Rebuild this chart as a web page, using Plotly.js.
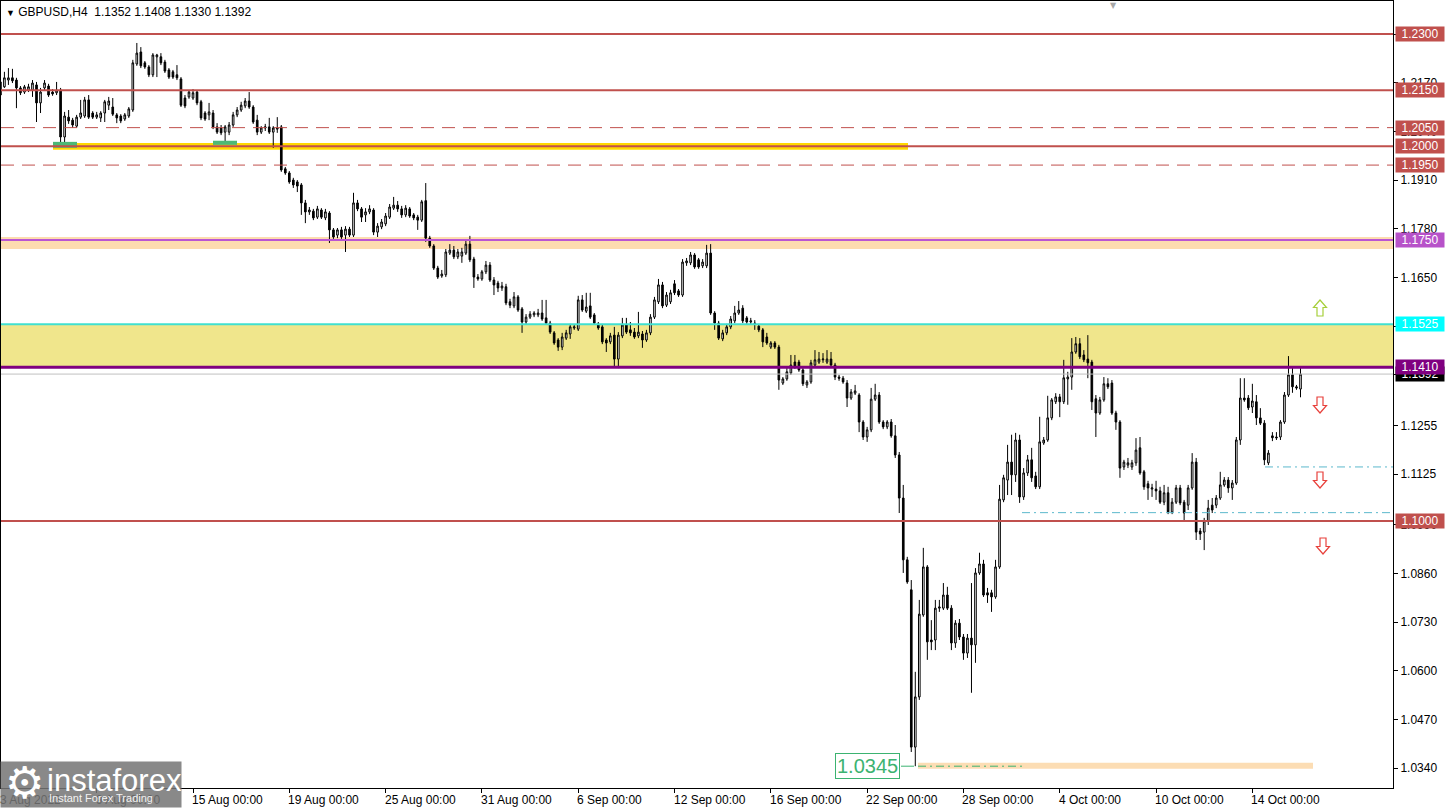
<!DOCTYPE html>
<html><head><meta charset="utf-8">
<script src="https://cdn.plot.ly/plotly-3.0.1.min.js"></script>
<style>html,body{margin:0;padding:0;background:#fff;overflow:hidden}#chart{width:1447px;height:808px}</style>
</head><body><div id="chart"></div>
<script>
// ---------- DATA (GBPUSD, H4) ----------
const open=[
1.2172,1.2159,1.2177,1.2183,1.2177,1.2156,1.2145,1.2150,1.2150,1.2164,
1.2116,1.2156,1.2161,1.2145,1.2143,1.2150,1.2025,1.2078,1.2070,1.2054,
1.2078,1.2081,1.2124,1.2089,1.2078,1.2076,1.2089,1.2110,1.2105,1.2084,
1.2081,1.2073,1.2081,1.2097,1.2220,1.2252,1.2223,1.2212,1.2191,1.2239,
1.2239,1.2225,1.2204,1.2199,1.2191,1.2180,1.2129,1.2132,1.2129,1.2145,
1.2119,1.2089,1.2084,1.2089,1.2052,1.2049,1.2038,1.2038,1.2057,1.2084,
1.2097,1.2108,1.2121,1.2105,1.2070,1.2038,1.2049,1.2052,1.2038,1.2046,
1.2052,1.1940,1.1929,1.1910,1.1905,1.1897,1.1849,1.1825,1.1827,1.1811,
1.1830,1.1809,1.1822,1.1777,1.1763,1.1777,1.1763,1.1779,1.1763,1.1849,
1.1833,1.1817,1.1825,1.1830,1.1771,1.1785,1.1793,1.1811,1.1835,1.1843,
1.1833,1.1817,1.1833,1.1817,1.1811,1.1803,1.1855,1.1755,1.1734,1.1675,
1.1654,1.1657,1.1715,1.1723,1.1705,1.1707,1.1715,1.1739,1.1699,1.1651,
1.1646,1.1665,1.1683,1.1643,1.1635,1.1622,1.1625,1.1585,1.1574,1.1598,
1.1566,1.1531,1.1544,1.1550,1.1550,1.1555,1.1542,1.1528,1.1502,1.1483,
1.1464,1.1488,1.1499,1.1515,1.1512,1.1590,1.1560,1.1574,1.1550,1.1526,
1.1518,1.1483,1.1478,1.1496,1.1432,1.1494,1.1523,1.1510,1.1504,1.1494,
1.1499,1.1483,1.1502,1.1544,1.1585,1.1630,1.1576,1.1585,1.1633,1.1614,
1.1603,1.1689,1.1689,1.1710,1.1697,1.1681,1.1681,1.1715,1.1555,1.1528,
1.1486,1.1502,1.1518,1.1534,1.1555,1.1568,1.1542,1.1531,1.1528,1.1520,
1.1510,1.1491,1.1464,1.1475,1.1464,1.1368,1.1379,1.1395,1.1424,1.1424,
1.1403,1.1363,1.1371,1.1416,1.1424,1.1430,1.1424,1.1432,1.1416,1.1384,
1.1381,1.1368,1.1328,1.1341,1.1336,1.1264,1.1224,1.1243,1.1325,1.1336,
1.1264,1.1251,1.1264,1.1227,1.1176,1.1061,1.0896,1.0816,1.0396,1.0530,
1.0749,1.0877,1.0682,1.0682,1.0767,1.0767,1.0802,1.0767,1.0674,1.0727,
1.0690,1.0647,1.0687,1.0669,1.0861,1.0885,1.0808,1.0808,1.0797,1.0877,
1.1056,1.1109,1.1157,1.1123,1.1216,1.1064,1.1128,1.1163,1.1120,1.1091,
1.1208,1.1216,1.1275,1.1318,1.1331,1.1318,1.1379,1.1384,1.1451,1.1473,
1.1443,1.1432,1.1424,1.1326,1.1288,1.1323,1.1366,1.1368,1.1288,1.1264,
1.1144,1.1149,1.1144,1.1155,1.1195,1.1131,1.1099,1.1085,1.1085,1.1080,
1.1050,1.1075,1.1024,1.1050,1.1088,1.1050,1.1042,1.1088,1.1157,1.0973,
1.0970,1.1000,1.1042,1.1042,1.1061,1.1096,1.1109,1.1088,1.1101,1.1216,
1.1328,1.1328,1.1304,1.1318,1.1275,1.1261,1.1155,1.1227,1.1224,1.1224,
1.1264,1.1336,1.1390,1.1358,1.1352];
const high=[
1.2177,1.2199,1.2209,1.2207,1.2183,1.2161,1.2164,1.2167,1.2177,1.2172,
1.2156,1.2177,1.2167,1.2153,1.2172,1.2156,1.2092,1.2097,1.2076,1.2084,
1.2124,1.2132,1.2137,1.2094,1.2092,1.2094,1.2124,1.2132,1.2129,1.2089,
1.2086,1.2089,1.2105,1.2231,1.2276,1.2265,1.2228,1.2217,1.2249,1.2247,
1.2249,1.2231,1.2209,1.2204,1.2217,1.2185,1.2137,1.2150,1.2153,1.2150,
1.2124,1.2094,1.2116,1.2097,1.2062,1.2057,1.2057,1.2065,1.2092,1.2105,
1.2119,1.2129,1.2145,1.2110,1.2084,1.2054,1.2060,1.2076,1.2054,1.2078,
1.2057,1.1945,1.1934,1.1916,1.1910,1.1902,1.1857,1.1838,1.1833,1.1841,
1.1835,1.1833,1.1827,1.1782,1.1782,1.1785,1.1787,1.1785,1.1876,1.1857,
1.1838,1.1835,1.1843,1.1835,1.1795,1.1806,1.1822,1.1846,1.1865,1.1854,
1.1841,1.1843,1.1838,1.1822,1.1817,1.1857,1.1902,1.1761,1.1739,1.1681,
1.1670,1.1726,1.1739,1.1734,1.1726,1.1729,1.1750,1.1761,1.1705,1.1659,
1.1670,1.1694,1.1691,1.1651,1.1641,1.1638,1.1633,1.1593,1.1611,1.1603,
1.1571,1.1552,1.1560,1.1560,1.1566,1.1590,1.1590,1.1534,1.1507,1.1488,
1.1502,1.1510,1.1526,1.1523,1.1601,1.1603,1.1609,1.1609,1.1555,1.1531,
1.1523,1.1488,1.1502,1.1518,1.1504,1.1542,1.1542,1.1531,1.1515,1.1558,
1.1507,1.1510,1.1552,1.1598,1.1646,1.1638,1.1611,1.1617,1.1643,1.1619,
1.1699,1.1702,1.1718,1.1715,1.1702,1.1699,1.1737,1.1739,1.1560,1.1534,
1.1510,1.1526,1.1547,1.1574,1.1587,1.1576,1.1547,1.1542,1.1536,1.1526,
1.1515,1.1502,1.1480,1.1480,1.1470,1.1384,1.1408,1.1443,1.1443,1.1430,
1.1408,1.1376,1.1430,1.1456,1.1451,1.1448,1.1456,1.1451,1.1422,1.1390,
1.1387,1.1376,1.1352,1.1363,1.1341,1.1269,1.1251,1.1355,1.1366,1.1344,
1.1269,1.1269,1.1272,1.1256,1.1184,1.1096,1.0904,1.0842,1.0597,1.0789,
1.0928,1.0882,1.0735,1.0789,1.0789,1.0834,1.0824,1.0775,1.0735,1.0738,
1.0698,1.0698,1.0834,1.0874,1.0915,1.0896,1.0821,1.0816,1.0896,1.1096,
1.1123,1.1203,1.1230,1.1235,1.1230,1.1141,1.1176,1.1195,1.1131,1.1278,
1.1224,1.1334,1.1328,1.1341,1.1339,1.1430,1.1398,1.1488,1.1491,1.1488,
1.1456,1.1496,1.1430,1.1336,1.1331,1.1384,1.1381,1.1376,1.1294,1.1269,
1.1163,1.1168,1.1163,1.1221,1.1224,1.1136,1.1107,1.1099,1.1107,1.1091,
1.1096,1.1091,1.1061,1.1096,1.1096,1.1056,1.1096,1.1181,1.1168,1.0981,
1.1008,1.1056,1.1061,1.1069,1.1131,1.1117,1.1117,1.1109,1.1224,1.1381,
1.1381,1.1336,1.1366,1.1336,1.1301,1.1269,1.1189,1.1237,1.1237,1.1269,
1.1344,1.1440,1.1408,1.1363,1.1408];
const low=[
1.2132,1.2156,1.2164,1.2169,1.2102,1.2137,1.2140,1.2145,1.2132,1.2065,
1.2089,1.2150,1.2132,1.2135,1.2137,1.2004,1.2009,1.2060,1.2049,1.2049,
1.2073,1.2076,1.2073,1.2073,1.2073,1.2065,1.2065,1.2097,1.2081,1.2062,
1.2062,1.2068,1.2076,1.2092,1.2215,1.2209,1.2207,1.2185,1.2185,1.2185,
1.2217,1.2196,1.2180,1.2180,1.2177,1.2105,1.2102,1.2127,1.2124,1.2110,
1.2070,1.2068,1.2070,1.2046,1.2033,1.2030,1.2009,1.2030,1.2052,1.2078,
1.2092,1.2102,1.2100,1.2060,1.2030,1.2033,1.2041,1.2033,1.1996,1.2036,
1.1932,1.1924,1.1900,1.1889,1.1878,1.1817,1.1795,1.1817,1.1803,1.1806,
1.1806,1.1803,1.1742,1.1753,1.1755,1.1753,1.1718,1.1758,1.1758,1.1827,
1.1798,1.1798,1.1819,1.1763,1.1758,1.1779,1.1787,1.1806,1.1830,1.1825,
1.1809,1.1811,1.1809,1.1803,1.1777,1.1798,1.1745,1.1729,1.1670,1.1646,
1.1649,1.1651,1.1710,1.1699,1.1699,1.1689,1.1710,1.1691,1.1622,1.1641,
1.1641,1.1659,1.1638,1.1603,1.1611,1.1614,1.1576,1.1568,1.1568,1.1558,
1.1502,1.1523,1.1539,1.1544,1.1544,1.1534,1.1523,1.1499,1.1470,1.1454,
1.1456,1.1483,1.1486,1.1510,1.1507,1.1558,1.1555,1.1539,1.1523,1.1510,
1.1472,1.1451,1.1472,1.1411,1.1408,1.1488,1.1499,1.1494,1.1486,1.1488,
1.1462,1.1478,1.1496,1.1539,1.1579,1.1568,1.1571,1.1579,1.1603,1.1598,
1.1598,1.1681,1.1683,1.1673,1.1673,1.1675,1.1675,1.1550,1.1510,1.1483,
1.1480,1.1496,1.1512,1.1528,1.1550,1.1528,1.1526,1.1523,1.1510,1.1504,
1.1464,1.1470,1.1459,1.1459,1.1350,1.1363,1.1374,1.1390,1.1406,1.1398,
1.1360,1.1355,1.1366,1.1411,1.1419,1.1422,1.1419,1.1411,1.1376,1.1374,
1.1366,1.1304,1.1323,1.1336,1.1237,1.1216,1.1211,1.1237,1.1320,1.1259,
1.1245,1.1245,1.1222,1.1168,1.1021,1.0861,1.0832,1.0383,1.0345,1.0522,
1.0744,1.0629,1.0655,1.0655,1.0757,1.0762,1.0762,1.0655,1.0661,1.0682,
1.0629,1.0634,1.0541,1.0621,1.0856,1.0797,1.0781,1.0757,1.0792,1.0872,
1.1050,1.1069,1.1069,1.1104,1.1048,1.1056,1.1120,1.1104,1.1085,1.1085,
1.1203,1.1211,1.1269,1.1312,1.1277,1.1312,1.1310,1.1350,1.1446,1.1432,
1.1424,1.1381,1.1296,1.1224,1.1283,1.1318,1.1352,1.1283,1.1243,1.1115,
1.1136,1.1141,1.1136,1.1147,1.1123,1.1083,1.1056,1.1064,1.1056,1.1045,
1.1042,1.1018,1.1018,1.1045,1.1042,1.1002,1.1029,1.1083,1.0949,1.0949,
1.0922,1.0989,1.1021,1.1034,1.1056,1.1091,1.1075,1.1056,1.1096,1.1203,
1.1318,1.1296,1.1288,1.1256,1.1256,1.1149,1.1149,1.1213,1.1216,1.1216,
1.1259,1.1331,1.1342,1.1350,1.1330];
const close=[
1.2137,1.2183,1.2183,1.2175,1.2156,1.2143,1.2159,1.2159,1.2169,1.2116,
1.2145,1.2169,1.2137,1.2140,1.2150,1.2025,1.2081,1.2068,1.2057,1.2078,
1.2089,1.2124,1.2078,1.2078,1.2084,1.2089,1.2119,1.2121,1.2086,1.2076,
1.2068,1.2084,1.2100,1.2223,1.2249,1.2215,1.2212,1.2191,1.2244,1.2244,
1.2223,1.2201,1.2185,1.2185,1.2183,1.2110,1.2108,1.2145,1.2143,1.2116,
1.2076,1.2073,1.2092,1.2052,1.2038,1.2036,1.2052,1.2057,1.2084,1.2097,
1.2110,1.2121,1.2105,1.2065,1.2038,1.2049,1.2052,1.2038,1.2049,1.2049,
1.1937,1.1929,1.1905,1.1897,1.1894,1.1849,1.1825,1.1830,1.1809,1.1833,
1.1811,1.1825,1.1777,1.1758,1.1777,1.1758,1.1779,1.1763,1.1849,1.1833,
1.1811,1.1825,1.1833,1.1771,1.1787,1.1798,1.1814,1.1838,1.1843,1.1833,
1.1817,1.1835,1.1814,1.1809,1.1803,1.1852,1.1755,1.1734,1.1675,1.1651,
1.1659,1.1718,1.1723,1.1705,1.1718,1.1718,1.1739,1.1697,1.1651,1.1646,
1.1665,1.1683,1.1643,1.1630,1.1622,1.1627,1.1582,1.1576,1.1598,1.1563,
1.1531,1.1544,1.1552,1.1555,1.1555,1.1539,1.1528,1.1504,1.1475,1.1464,
1.1491,1.1502,1.1518,1.1518,1.1590,1.1563,1.1571,1.1544,1.1528,1.1515,
1.1478,1.1475,1.1494,1.1432,1.1496,1.1523,1.1504,1.1502,1.1491,1.1504,
1.1483,1.1502,1.1544,1.1590,1.1630,1.1574,1.1603,1.1609,1.1609,1.1603,
1.1691,1.1694,1.1710,1.1678,1.1678,1.1691,1.1715,1.1555,1.1528,1.1488,
1.1502,1.1518,1.1539,1.1555,1.1563,1.1534,1.1531,1.1534,1.1526,1.1510,
1.1478,1.1475,1.1475,1.1464,1.1376,1.1379,1.1398,1.1416,1.1411,1.1403,
1.1366,1.1371,1.1422,1.1430,1.1432,1.1432,1.1432,1.1416,1.1384,1.1381,
1.1371,1.1328,1.1344,1.1347,1.1264,1.1224,1.1243,1.1325,1.1336,1.1264,
1.1251,1.1264,1.1227,1.1176,1.1061,1.0896,1.0837,1.0396,1.0530,1.0751,
1.0877,1.0677,1.0677,1.0767,1.0770,1.0802,1.0767,1.0674,1.0727,1.0690,
1.0647,1.0687,1.0669,1.0861,1.0885,1.0802,1.0802,1.0797,1.0877,1.1058,
1.1115,1.1157,1.1123,1.1216,1.1064,1.1128,1.1163,1.1115,1.1091,1.1211,
1.1216,1.1275,1.1323,1.1331,1.1318,1.1382,1.1384,1.1451,1.1473,1.1438,
1.1430,1.1422,1.1318,1.1288,1.1323,1.1366,1.1358,1.1288,1.1264,1.1141,
1.1157,1.1155,1.1155,1.1189,1.1128,1.1091,1.1088,1.1088,1.1080,1.1050,
1.1075,1.1024,1.1050,1.1088,1.1048,1.1021,1.1088,1.1157,1.0970,1.0965,
1.1000,1.1034,1.1029,1.1061,1.1096,1.1109,1.1088,1.1101,1.1216,1.1328,
1.1323,1.1302,1.1320,1.1275,1.1261,1.1163,1.1181,1.1222,1.1222,1.1264,
1.1336,1.1390,1.1358,1.1355,1.1392];

const dateIdx=[0,24,48,72,96,120,144,168,192,216,240,264,288,312];
const dateText=['3 Aug 2022','9 Aug 00:00','15 Aug 00:00','19 Aug 00:00','25 Aug 00:00','31 Aug 00:00','6 Sep 00:00','12 Sep 00:00','16 Sep 00:00','22 Sep 00:00','28 Sep 00:00','4 Oct 00:00','10 Oct 00:00','14 Oct 00:00'];
const axisTicks=[1.2300,1.2170,1.2040,1.1910,1.1780,1.1650,1.1520,1.1390,1.1255,1.1125,1.0990,1.0860,1.0730,1.0600,1.0470,1.0340];

const redSolidLevels=[1.2300,1.2150,1.2000,1.1000];
const redDashedLevels=[1.2050,1.1950];
const orchidLevel=1.1750, orchidBand=[1.1726,1.1758];
const zoneTop=1.1525, zoneBottom=1.1410;
const currentPrice=1.1392;
const supportDashDot=[1.1144,1.1022];
const lowLevel=1.0345, lowBand=[1.0338,1.0354];
const yellowBand=[1.1991,1.2009];
const greenMarks=[[1.1996,1.2012],[1.2004,1.2015]];
const labelPrices=[1.2300,1.2150,1.2050,1.2000,1.1950,1.1750,1.1525,1.1392,1.1410,1.1000];
const headerText='GBPUSD,H4\u00a0\u00a01.1352 1.1408 1.1330 1.1392';

// ---------- LAYOUT HELPERS (pixel -> paper) ----------
const L=1,R=1393,T=1,B=788;
const px=x=>(x-L)/(R-L);
const py=y=>(B-y)/(B-T);
const RED='#C0504D';
const FONT='Liberation Sans, Arial, sans-serif';

const xs=open.map((_,i)=>i);
const trace={type:'candlestick',x:xs,open:open,high:high,low:low,close:close,
  increasing:{line:{color:'#000',width:1},fillcolor:'#fff'},
  decreasing:{line:{color:'#000',width:1},fillcolor:'#000'},
  whiskerwidth:0,hoverinfo:'none',showlegend:false};

const shapes=[];
function hband(y0,y1,color,x0p,x1p){shapes.push({type:'rect',xref:'paper',yref:'y',x0:x0p,x1:x1p,y0:y0,y1:y1,fillcolor:color,line:{width:0},layer:'below'});}
function hline(y,color,w,dash,x0p,x1p){shapes.push({type:'line',xref:'paper',yref:'y',x0:x0p,x1:x1p,y0:y,y1:y,line:{color:color,width:w,dash:dash||'solid'},layer:'above'});}
// hollow block arrow (pixel geometry -> paper path)
function arrow(cx,cy,dir,color){
  const s=dir==='up'?-1:1;
  const pts=[[0,8*s],[6.5,0.5*s],[3,0.5*s],[3,-8*s],[-3,-8*s],[-3,0.5*s],[-6.5,0.5*s]];
  const d=pts.map((p,k)=>(k?'L':'M')+px(cx+p[0]).toFixed(5)+','+py(cy+p[1]).toFixed(5)).join(' ')+' Z';
  shapes.push({type:'path',xref:'paper',yref:'paper',path:d,fillcolor:'#fff',line:{color:color,width:1.2},layer:'above'});
}

hband(zoneBottom,zoneTop,'#F0E68C',0,1);
hband(orchidBand[0],orchidBand[1],'#FDDCB0',0,1);
hband(lowBand[0],lowBand[1],'#FCDDB4',px(918),px(1313));
hband(yellowBand[0],yellowBand[1],'#FFD800',px(53),px(908));
shapes.push({type:'rect',xref:'paper',yref:'y',x0:px(53),x1:px(77),y0:greenMarks[0][0],y1:greenMarks[0][1],fillcolor:'#4CB876',line:{width:0},layer:'above'});
shapes.push({type:'rect',xref:'paper',yref:'y',x0:px(213),x1:px(237),y0:greenMarks[1][0],y1:greenMarks[1][1],fillcolor:'#4CB876',line:{width:0},layer:'above'});
redSolidLevels.forEach(v=>hline(v,RED,2,'solid',0,1));
redDashedLevels.forEach(v=>hline(v,RED,1,'13px,8px',0,1));
hline(orchidLevel,'#BA55D3',2,'solid',0,1);
hline(zoneTop,'#40E0D0',2,'solid',0,1);
hline(currentPrice,'#C0C0C0',1,'solid',0,1);
hline(zoneBottom,'#800080',3,'solid',0,1);
hline(supportDashDot[0],'#5BB8CC',1,'8px,4px,2px,4px',px(1265),1);
hline(supportDashDot[1],'#5BB8CC',1,'8px,4px,2px,4px',px(1022),1);
hline(lowLevel,'#3CB371',1,'8px,4px,2px,4px',px(918),px(1025));
hline(lowLevel,'#3CB371',1,'solid',px(901),px(914));
arrow(1320,308,'up','#A6CF3A');
arrow(1320,405,'down','#E8413C');
arrow(1320,480,'down','#E8413C');
arrow(1323,546,'down','#E8413C');

const ann=[];
// header
ann.push({xref:'paper',yref:'paper',x:px(4),y:py(12),xanchor:'left',yanchor:'middle',showarrow:false,
  text:'<span style="font-size:9px">\u25BC</span>\u00a0'+headerText,font:{family:FONT,size:12,color:'#000'}});
ann.push({xref:'paper',yref:'paper',x:px(1113),y:py(5),xanchor:'center',yanchor:'middle',showarrow:false,
  text:'\u25BC',font:{family:'DejaVu Sans',size:8,color:'#A8A8A8'}});
// colored price labels
const labelColors=[RED,RED,RED,RED,RED,'#B752C9','#00FFFF','#000000','#800080',RED];
labelPrices.forEach((v,k)=>ann.push({xref:'paper',yref:'y',x:px(1395),y:v,xanchor:'left',yanchor:'middle',
  showarrow:false,text:v.toFixed(4),bgcolor:labelColors[k],width:45,height:11,borderpad:1.5,align:'center',
  font:{family:FONT,size:12,color:'#fff'}}));
// 1.0345 label
ann.push({xref:'paper',yref:'y',x:px(868),y:lowLevel,xanchor:'center',yanchor:'middle',showarrow:false,
  text:lowLevel.toFixed(4),font:{family:FONT,size:20,color:'#3CB371'},bgcolor:'#fff',bordercolor:'#3CB371',borderwidth:1,borderpad:1});
// date labels
dateIdx.forEach((d,k)=>ann.push({xref:k===0?'paper':'x',x:k===0?px(0):d,xanchor:'left',xshift:k===0?-2:-3,
  yref:'paper',y:py(800),yanchor:'middle',showarrow:false,text:dateText[k],font:{family:FONT,size:12,color:'#000'}}));
// watermark box + text
ann.push({xref:'paper',yref:'paper',x:px(0),y:py(808),xanchor:'left',yanchor:'bottom',showarrow:false,text:' ',
  bgcolor:'rgba(118,118,118,0.86)',width:180,height:45,borderpad:0});
ann.push({xref:'paper',yref:'paper',x:px(24),y:py(782),xanchor:'center',yanchor:'middle',showarrow:false,text:'\u2699',
  font:{family:'DejaVu Sans',size:44,color:'#fff'}});
ann.push({xref:'paper',yref:'paper',x:px(45),y:py(780),xanchor:'left',yanchor:'middle',showarrow:false,text:'instaforex',
  font:{family:FONT,size:31,color:'#fff'}});
ann.push({xref:'paper',yref:'paper',x:px(47),y:py(798),xanchor:'left',yanchor:'middle',showarrow:false,text:'Instant Forex Trading',
  font:{family:FONT,size:11,color:'rgba(255,255,255,0.92)'}});

const layout={width:1447,height:808,margin:{l:1,r:54,t:1,b:20,pad:0},
  paper_bgcolor:'#fff',plot_bgcolor:'#fff',showlegend:false,boxmode:'overlay',boxgap:0.42,hovermode:false,
  xaxis:{range:[0.15,347.05],showgrid:false,zeroline:false,rangeslider:{visible:false},showline:true,mirror:true,
    linecolor:'#000',linewidth:1,ticks:'outside',ticklen:4,tickcolor:'#000',tickvals:dateIdx,showticklabels:false,fixedrange:true},
  yaxis:{side:'right',range:[1.02868,1.23881],showgrid:false,zeroline:false,showline:true,mirror:true,linecolor:'#000',linewidth:1,
    ticks:'outside',ticklen:4,tickcolor:'#000',tickvals:axisTicks,ticktext:axisTicks.map(v=>v.toFixed(4)),
    tickfont:{family:FONT,size:12,color:'#000'},fixedrange:true},
  shapes:shapes,annotations:ann};
Plotly.newPlot('chart',[trace],layout,{staticPlot:true,displayModeBar:false});
</script></body></html>
